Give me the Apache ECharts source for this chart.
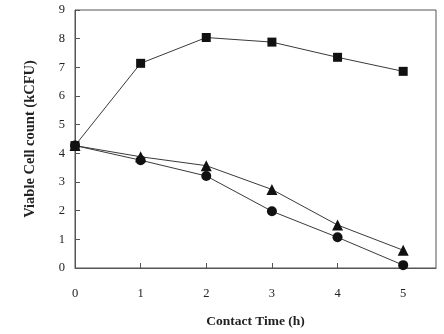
<!DOCTYPE html>
<html>
<head>
<meta charset="utf-8">
<script src="https://cdn.jsdelivr.net/npm/echarts@6/dist/echarts.min.js"></script>
<style>
  html, body { margin: 0; padding: 0; background: #fff; }
  #chart { width: 444px; height: 334px; }
</style>
</head>
<body>
<div id="chart"></div>
<script>
// Contact time (h) and viable cell counts (kCFU) for three treatments
const contactTime = [0, 1, 2, 3, 4, 5];
const squareSeries = [4.27, 7.14, 8.04, 7.88, 7.35, 6.86];
const triangleSeries = [4.27, 3.88, 3.57, 2.74, 1.50, 0.62];
const circleSeries = [4.27, 3.76, 3.21, 1.98, 1.07, 0.10];

const yTicks = [0, 1, 2, 3, 4, 5, 6, 7, 8, 9];

const lineColor = '#3a3a3a';
const markColor = '#111111';
const axisColor = '#555555';
const fontFamily = '"Liberation Serif", "Times New Roman", serif';

function pairs(vals) {
  return contactTime.map((t, i) => [t, vals[i]]);
}

function makeSeries(name, vals, symbol, size) {
  return {
    name: name,
    type: 'line',
    data: pairs(vals),
    symbol: symbol,
    symbolSize: size,
    showAllSymbol: true,
    lineStyle: { color: lineColor, width: 1 },
    itemStyle: { color: markColor, borderColor: markColor, borderWidth: 0 },
    emphasis: { disabled: true },
    animation: false
  };
}

const chart = echarts.init(document.getElementById('chart'), null, { renderer: 'canvas' });
chart.setOption({
  backgroundColor: '#ffffff',
  animation: false,
  grid: {
    left: 75, right: 8, top: 10, bottom: 65,
    show: true, borderColor: axisColor, borderWidth: 1, backgroundColor: 'transparent'
  },
  xAxis: {
    type: 'value',
    min: 0, max: 5.5, interval: 1,
    name: 'Contact Time (h)',
    nameLocation: 'middle',
    nameGap: 47,
    nameTextStyle: { fontFamily: fontFamily, fontWeight: 'bold', fontSize: 13.5, color: '#222' },
    axisLine: { show: true, lineStyle: { color: axisColor, width: 1 } },
    axisTick: { show: true, inside: true, length: 5, lineStyle: { color: axisColor } },
    axisLabel: {
      margin: 19, fontFamily: fontFamily, fontSize: 12.5, color: '#222',
      showMaxLabel: false,
      formatter: v => (Number.isInteger(v) ? String(v) : '')
    },
    splitLine: { show: false }
  },
  yAxis: {
    type: 'value',
    min: 0, max: 9, interval: 1,
    name: 'Viable Cell count (kCFU)',
    nameLocation: 'middle',
    nameGap: 37,
    nameTextStyle: { fontFamily: fontFamily, fontWeight: 'bold', fontSize: 14.5, color: '#222' },
    axisLine: { show: true, lineStyle: { color: axisColor, width: 1 } },
    axisTick: { show: true, inside: true, length: 5, lineStyle: { color: axisColor } },
    axisLabel: {
      margin: 10, fontFamily: fontFamily, fontSize: 12.5, color: '#222',
      formatter: v => (yTicks.includes(v) ? String(v) : '')
    },
    splitLine: { show: false }
  },
  series: [
    makeSeries('Square', squareSeries, 'rect', 9),
    makeSeries('Triangle', triangleSeries, 'triangle', 11),
    makeSeries('Circle', circleSeries, 'circle', 10)
  ]
});
</script>
</body>
</html>
